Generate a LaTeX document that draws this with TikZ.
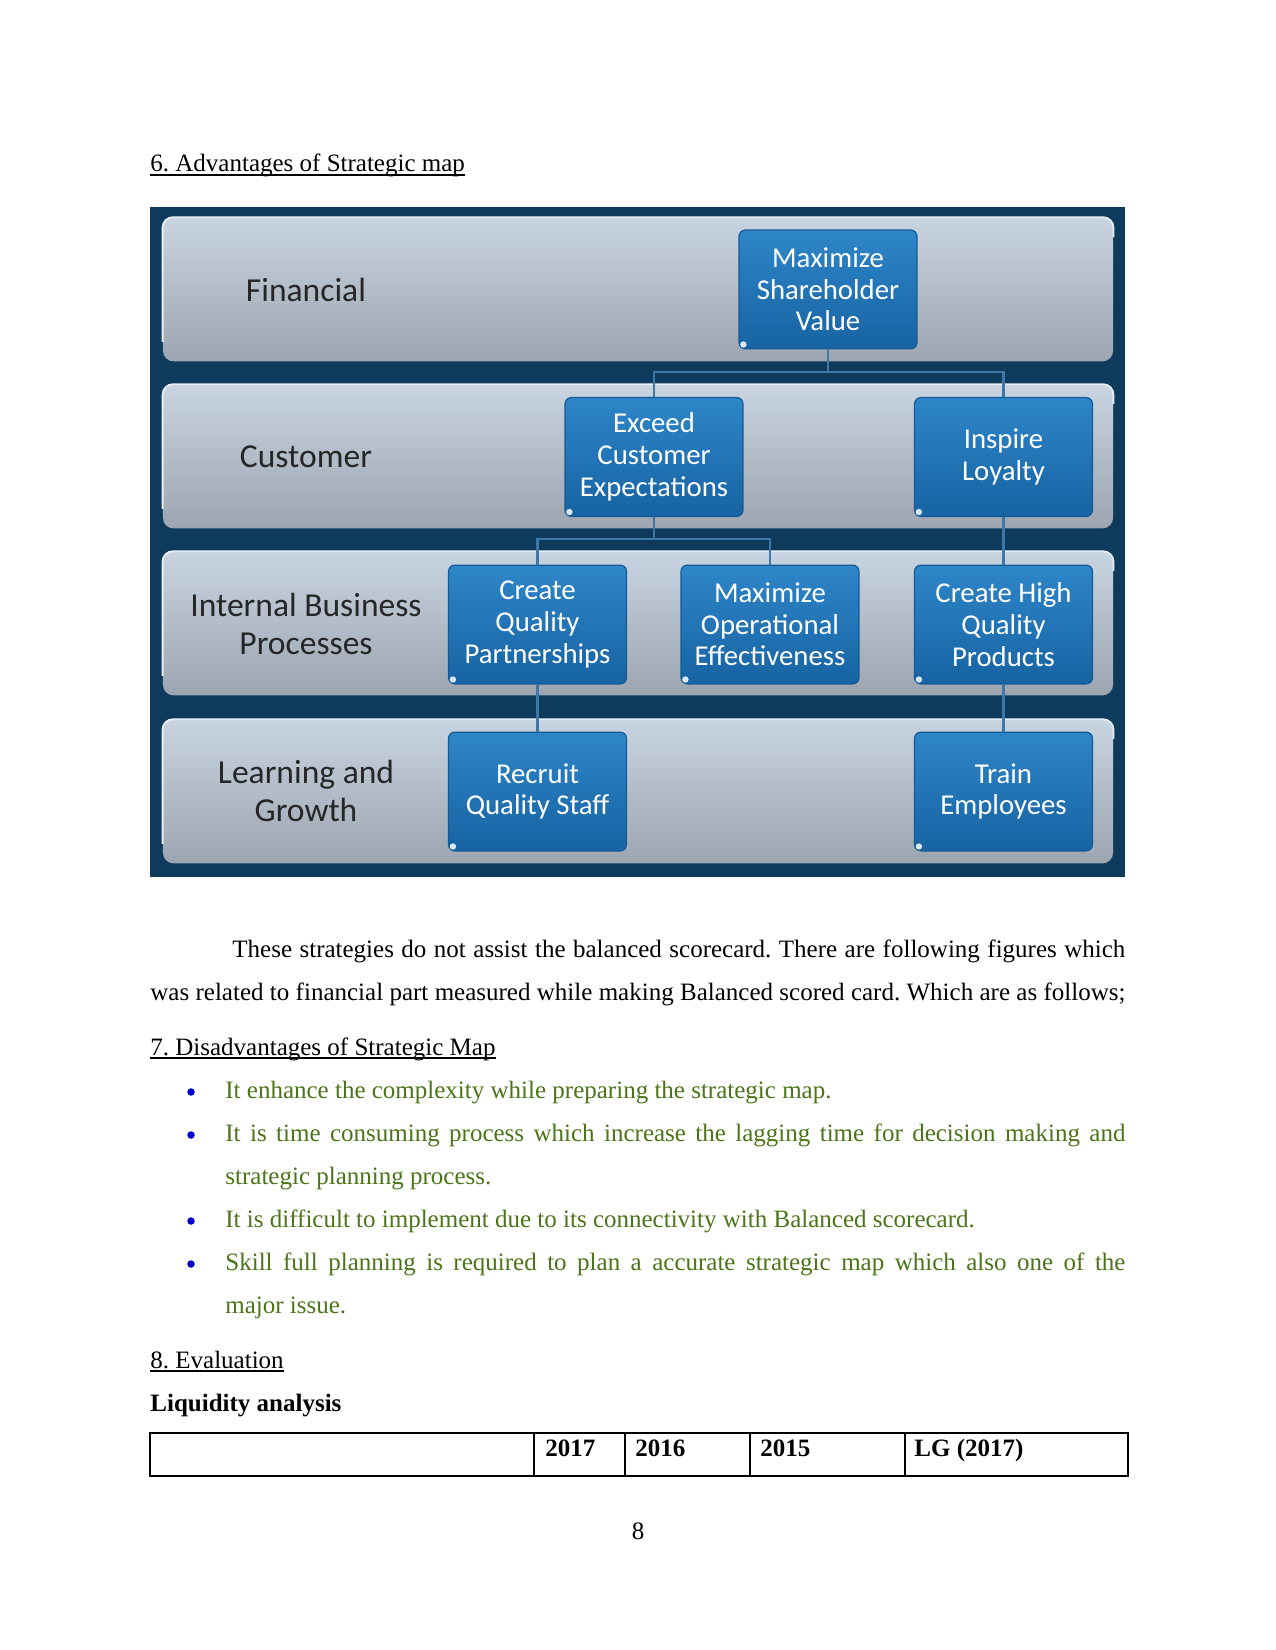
\documentclass[tikz,border=0pt]{standalone}
\usepackage{fontspec}
\setmainfont{Liberation Serif}
\newfontfamily\calfont{Carlito}
\usetikzlibrary{calc}
\frenchspacing
\definecolor{darkbg}{HTML}{0E3B5C}
\definecolor{bandtop}{HTML}{C9D4E2}
\definecolor{bandbot}{HTML}{9CA5B0}
\definecolor{boxtop}{HTML}{2E86C8}
\definecolor{boxbot}{HTML}{1763A3}
\definecolor{boxedge}{HTML}{145A96}
\definecolor{connc}{HTML}{3E78A8}
\definecolor{greentxt}{HTML}{4B7518}
\definecolor{bulletc}{HTML}{0000C8}
\definecolor{labeltxt}{HTML}{262626}
\begin{document}
\begin{tikzpicture}[x=0.48pt,y=-0.48pt,
 band/.style={rounded corners=5pt, top color=bandtop, bottom color=bandbot, minimum width=456pt, minimum height=69pt, inner sep=0pt, draw=none},
 bandhi/.style={draw=white!60!bandtop, line width=0.9pt},
 sbox/.style={rounded corners=3pt, top color=boxtop, bottom color=boxbot, draw=boxedge, line width=0.6pt, minimum width=85.4pt, minimum height=57pt, inner sep=0pt, align=center, text=white, font=\calfont\fontsize{13.8}{15.2}\selectfont},
 blabel/.style={align=center, text=labeltxt, font=\calfont\fontsize{16.1}{18.4}\selectfont, inner sep=0pt},
 conn/.style={draw=connc, line width=1pt},
 body/.style={anchor=base west, inner sep=0pt, font=\fontsize{12}{14}\selectfont},
 gtxt/.style={body, text=greentxt},
 bul/.style={fill=bulletc, circle, inner sep=0pt, minimum size=3.6pt},
 uline/.style={line width=0.55pt},
]
\useasboundingbox (0,0) rectangle (1275,1650);
\fill[white] (0,0) rectangle (1275,1650);

% heading
\node[body] (h6) at (150,172) {6. Advantages of Strategic map};
\draw[uline] ($(h6.base west)+(0,3)$) -- ($(h6.base east)+(0,3)$);

% diagram background
\node[fill=darkbg, minimum width=468pt, minimum height=321.6pt, inner sep=0pt, anchor=north west] (bg) at (150,207) {};

% bands
\node[band] (bfin) at (638,289.5) {};
\node[band] (bcus) at (638,456.5) {};
\node[band] (bint) at (638,623.5) {};
\node[band] (blea) at (638,791.5) {};
\foreach \b in {bfin,bcus,bint,blea}
  \draw[bandhi, rounded corners=5pt] ($(\b.south west)+(0,-20)$) -- (\b.north west) -- (\b.north east) -- ($(\b.north east)+(0,20)$);

\node[blabel] (lfin) at (306,290) {Financial};
\node[blabel] (lcus) at (306,457) {Customer};
\node[blabel] (lint) at (306,624) {Internal Business\\Processes};
\node[blabel] (llea) at (306,791) {Learning and\\Growth};

% boxes
\node[sbox] (msv) at (828,289.5) {Maximize\\Shareholder\\Value};
\node[sbox] (ece) at (654,457) {Exceed\\Customer\\Expectations};
\node[sbox] (il) at (1003.5,457) {Inspire\\Loyalty};
\node[sbox] (cqp) at (537.5,624.5) {Create\\Quality\\Partnerships};
\node[sbox] (moe) at (770,624.5) {Maximize\\Operational\\Effectiveness};
\node[sbox] (chq) at (1003.5,624.5) {Create High\\Quality\\Products};
\node[sbox] (rqs) at (537.5,791.5) {Recruit\\Quality Staff};
\node[sbox] (te) at (1003.5,791.5) {Train\\Employees};
\foreach \b in {msv,ece,il,cqp,moe,chq,rqs,te}
  \fill[white, opacity=0.85] ($(\b.south west)+(5,-5)$) circle (3.2);

% connectors
\coordinate (j1) at (828,372);
\coordinate (j2) at (654,539);
\draw[conn] (msv.south) -- (j1);
\draw[conn] (ece.north) |- (j1) -| (il.north);
\draw[conn] (ece.south) -- (j2);
\draw[conn] (cqp.north) |- (j2) -| (moe.north);
\draw[conn] (il.south) -- (chq.north);
\draw[conn] (cqp.south) -- (rqs.north);
\draw[conn] (chq.south) -- (te.north);

% paragraph
\node[body] (p1) at (232,957) {\makebox[428.6pt][s]{These strategies do not assist the balanced scorecard. There are following figures which}};
\node[body] (p2) at (150,1000) {\makebox[468pt][s]{was related to financial part measured while making Balanced scored card. Which are as follows;}};

\node[body] (h7) at (150,1055) {7. Disadvantages of Strategic Map};
\draw[uline] ($(h7.base west)+(0,3)$) -- ($(h7.base east)+(0,3)$);

\node[bul] (d1) at (191,1092) {};
\node[gtxt] (t1) at (225,1098) {It enhance the complexity while preparing the strategic map.};
\node[bul] (d2) at (191,1135) {};
\node[gtxt] (t2) at (225,1141) {\makebox[432pt][s]{It is time consuming process which increase the lagging time for decision making and}};
\node[gtxt] (t2b) at (225,1184) {strategic planning process.};
\node[bul] (d3) at (191,1221) {};
\node[gtxt] (t3) at (225,1227) {It is difficult to implement due to its connectivity with Balanced scorecard.};
\node[bul] (d4) at (191,1264) {};
\node[gtxt] (t4) at (225,1270) {\makebox[432pt][s]{Skill full planning is required to plan a accurate strategic map which also one of the}};
\node[gtxt] (t4b) at (225,1313) {major issue.};

\node[body] (h8) at (150,1368) {8. Evaluation};
\draw[uline] ($(h8.base west)+(0,3)$) -- ($(h8.base east)+(0,3)$);
\node[body, font=\fontsize{12}{14}\selectfont\bfseries] (liq) at (150,1411) {Liquidity analysis};

% table
\draw[line width=0.6pt] (150,1433) rectangle (1128,1476);
\foreach \xx in {534,625,750,905} \draw[line width=0.6pt] (\xx,1433) -- (\xx,1476);
\node[body, font=\fontsize{12}{14}\selectfont\bfseries] (c1) at (545,1456) {2017};
\node[body, font=\fontsize{12}{14}\selectfont\bfseries] (c2) at (635,1456) {2016};
\node[body, font=\fontsize{12}{14}\selectfont\bfseries] (c3) at (760,1456) {2015};
\node[body, font=\fontsize{12}{14}\selectfont\bfseries] (c4) at (914,1456) {LG (2017)};

\node[anchor=base, inner sep=0pt, font=\fontsize{12}{14}\selectfont] (pg) at (638,1539) {8};
\end{tikzpicture}
\end{document}
